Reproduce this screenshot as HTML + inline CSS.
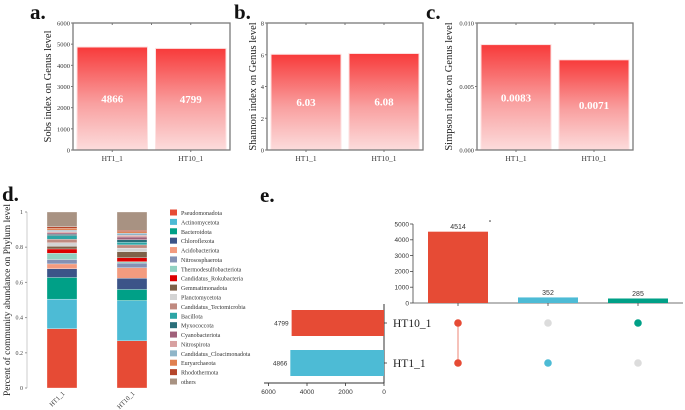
<!DOCTYPE html>
<html><head><meta charset="utf-8">
<style>
html,body{margin:0;padding:0;background:#fff;}
svg{display:block;font-family:"Liberation Serif",serif;}
.sans{font-family:"Liberation Sans",sans-serif;}
</style></head>
<body>
<svg id="fig" width="685" height="410" viewBox="0 0 685 410" xmlns="http://www.w3.org/2000/svg">
<defs>
<linearGradient id="rg" x1="0" y1="0" x2="0" y2="1">
<stop offset="0" stop-color="#f83a3a"/><stop offset="0.55" stop-color="#f9a0a0"/><stop offset="1" stop-color="#fcdcdc"/>
</linearGradient>
</defs>
</svg>
<script>
// ---------- data ----------
const alphaSamples = ["HT1_1","HT10_1"];
const sobsValues = [4866, 4799];
const sobsLabels = ["4866","4799"];
const sobsTicks = [0,1000,2000,3000,4000,5000,6000];
const shannonValues = [6.03, 6.08];
const shannonLabels = ["6.03","6.08"];
const shannonTicks = [0,2,4,6,8];
const simpsonValues = [0.0083, 0.0071];
const simpsonLabels = ["0.0083","0.0071"];
const simpsonTicks = [0,0.005,0.010];
const simpsonTickLabels = ["0.000","0.005","0.010"];

const phyla = ["Pseudomonadota","Actinomycetota","Bacteroidota","Chloroflexota","Acidobacteriota","Nitrososphaerota","Thermodesulfobacteriota","Candidatus_Rokubacteria","Gemmatimonadota","Planctomycetota","Candidatus_Tectomicrobia","Bacillota","Myxococcota","Cyanobacteriota","Nitrospirota","Candidatus_Cloacimonadota","Euryarchaeota","Rhodothermota","others"];
const phylumColors = ["#e64b35","#4dbbd5","#00a087","#3c5488","#f39b7f","#8491b4","#91d1c2","#dc0000","#7e6148","#d4d4d4","#c08a80","#2ca5a5","#2a6f7a","#a0607a","#d8a0a0","#8fb5c8","#e08050","#b5452a","#a89282"];
const ht1Abund = [0.337,0.168,0.123,0.050,0.027,0.025,0.036,0.024,0.015,0.020,0.020,0.020,0.008,0.008,0.008,0.008,0.010,0.010,0.083];
const ht10Abund = [0.268,0.229,0.063,0.064,0.059,0.027,0.008,0.022,0.035,0.020,0.018,0.015,0.015,0.015,0.010,0.012,0.008,0.008,0.104];
const stackSamples = ["HT1_1","HT10_1"];
const stackTicks = [0,0.2,0.4,0.6,0.8,1];
const stackTickLabels = ["0","0.2","0.4","0.6","0.8","1"];

const upsetValues = [4514, 352, 285];
const upsetColors = ["#e64b35","#4dbbd5","#00a087"];
const upsetTicks = [0,1000,2000,3000,4000,5000];
const setNames = ["HT10_1","HT1_1"];
const setSizes = [4799, 4866];
const setColors = ["#e64b35","#4dbbd5"];
const setTicks = [0,2000,4000,6000];
// membership[set][intersection]
const membership = [[1,0,1],[1,1,0]];

// ---------- helpers ----------
const svg = document.getElementById('fig');
const NS = "http://www.w3.org/2000/svg";
function el(tag, attrs, parent){
  const e = document.createElementNS(NS, tag);
  for (const k in attrs) e.setAttribute(k, attrs[k]);
  (parent||svg).appendChild(e);
  return e;
}
function txt(x,y,s,attrs,parent){
  const t = el('text', Object.assign({x:x,y:y}, attrs||{}), parent);
  t.textContent = s;
  return t;
}
function lin(d0,d1,r0,r1){ return v => r0 + (v-d0)/(d1-d0)*(r1-r0); }

// ---------- alpha panels ----------
function alphaPanel(opt){
  const g = el('g',{});
  
  
  const L=opt.left,R=opt.right,T=23,B=150;
  const y = lin(0, opt.max, B, T);
  const bw = (R-L)/alphaSamples.length;
  alphaSamples.forEach((s,i)=>{
    const x0 = L + i*bw + 4, x1 = L + (i+1)*bw - 4;
    const r = el('rect',{x:x0,y:y(opt.values[i]),width:x1-x0,height:B-y(opt.values[i]),fill:'url(#rg)',stroke:'#fde2e2','stroke-width':1},g);
    
    
    const lv = txt((x0+x1)/2, (y(opt.values[i])+B)/2+4, opt.labels[i], {'text-anchor':'middle','font-size':11,'font-weight':'bold',fill:'#fff'},g);
    
    
    const xl = txt(L+(i+0.5)*bw, 161, s, {'text-anchor':'middle','font-size':7.5,fill:'#333'},g);
    
    
    el('line',{x1:L+(i+0.5)*bw,x2:L+(i+0.5)*bw,y1:B,y2:B+2,stroke:'#777'},g);
    el('line',{x1:L+(i+0.5)*bw,x2:L+(i+0.5)*bw,y1:T,y2:T+2,stroke:'#777'},g);
  });
  el('line',{x1:L+bw,x2:L+bw,y1:T,y2:T+2,stroke:'#777'},g);
  el('rect',{x:L,y:T,width:R-L,height:B-T,fill:'none',stroke:'#7a7a7a','stroke-width':1.3},g);
  opt.ticks.forEach((t,i)=>{
    el('line',{x1:L-2,x2:L,y1:y(t),y2:y(t),stroke:'#777'},g);
    const tl = txt(L-3, y(t)+2.5, opt.tickLabels?opt.tickLabels[i]:String(t), {'text-anchor':'end','font-size':6.5,fill:'#333'},g);
    
    
  });
  const yt = txt(0,0,opt.ylabel,{'text-anchor':'middle','font-size':10.5,fill:'#222',transform:`translate(${opt.ylx},${(T+B)/2}) rotate(-90)`},g);
  
  
  const pl = txt(opt.px, 19, opt.letter, {'font-size':21,'font-weight':'bold',fill:'#111'},g);
  
  
}
alphaPanel({name:'sobs-panel',left:73,right:230,max:6000,values:sobsValues,labels:sobsLabels,ticks:sobsTicks,ylabel:'Sobs index on Genus level',ylx:51,px:30,letter:'a.'});
alphaPanel({name:'shannon-panel',left:267,right:423,max:8,values:shannonValues,labels:shannonLabels,ticks:shannonTicks,ylabel:'Shannon index on Genus level',ylx:256,px:234,letter:'b.'});
alphaPanel({name:'simpson-panel',left:477,right:633,max:0.010,values:simpsonValues,labels:simpsonLabels,ticks:simpsonTicks,tickLabels:simpsonTickLabels,ylabel:'Simpson index on Genus level',ylx:452,px:426,letter:'c.'});

// ---------- panel d: stacked bars ----------
(function(){
  const g = el('g',{});
  
  
  const T=212,B=388,AX=27;
  const y = lin(0,1,B,T);
  const pl = txt(2,201,'d.',{'font-size':21,'font-weight':'bold',fill:'#111'},g);
  
  
  const yt = txt(0,0,'Percent of community abundance on Phylum level',{'text-anchor':'middle','font-size':9.5,fill:'#222',transform:`translate(10,${(T+B)/2}) rotate(-90)`},g);
  
  
  el('line',{x1:AX,x2:AX,y1:T,y2:B,stroke:'#aaa','stroke-width':0.6},g);
  stackTicks.forEach((t,i)=>{
    el('line',{x1:AX-2,x2:AX,y1:y(t),y2:y(t),stroke:'#999'},g);
    const tl = txt(AX-4,y(t)+2,stackTickLabels[i],{'text-anchor':'end','font-size':6,fill:'#444'},g);
    
    
  });
  const data=[ht1Abund,ht10Abund], xs=[47,117], bw=30;
  data.forEach((arr,si)=>{
    let cum=0;
    arr.forEach((v,k)=>{
      const r = el('rect',{x:xs[si],y:y(cum+v),width:bw,height:y(cum)-y(cum+v),fill:phylumColors[k],stroke:'#fff','stroke-width':0.3},g);
      
      
      cum+=v;
    });
    const xl = txt(0,0,stackSamples[si],{'text-anchor':'end','font-size':6.5,fill:'#333',transform:`translate(${xs[si]+bw/2+3},${B+6}) rotate(-45)`},g);
    
    
  });
  phyla.forEach((p,k)=>{
    const yy = 213 + k*9.39;
    const sw = el('rect',{x:170,y:yy-3.5,width:7,height:6,fill:phylumColors[k]},g);
    
    
    const lt = txt(181,yy+2,p,{'font-size':6,fill:'#333'},g);
    
    
  });
})();

// ---------- panel e: upset ----------
(function(){
  const g = el('g',{class:'sans'});
  
  
  const pl = txt(260,202,'e.',{'font-size':21,'font-weight':'bold',fill:'#111','font-family':'Liberation Serif, serif'},g);
  
  
  const YA=413, T=224, B=303;
  const y = lin(0,5000,B,T);
  const cx = [458,548,638], bw=60;
  el('line',{x1:YA,x2:YA,y1:T,y2:B,stroke:'#444','stroke-width':0.8},g);
  el('line',{x1:YA,x2:683,y1:B,y2:B,stroke:'#444','stroke-width':0.8},g);
  upsetTicks.forEach(t=>{
    el('line',{x1:YA-3,x2:YA,y1:y(t),y2:y(t),stroke:'#444','stroke-width':0.8},g);
    const tl = txt(YA-4,y(t)+2.3,String(t),{'text-anchor':'end','font-size':6.5,fill:'#333'},g);
    
    
  });
  upsetValues.forEach((v,i)=>{
    const r = el('rect',{x:cx[i]-bw/2,y:y(v),width:bw,height:B-y(v),fill:upsetColors[i]},g);
    
    
    el('line',{x1:cx[i],x2:cx[i],y1:B,y2:B+3,stroke:'#444','stroke-width':0.8},g);
    const vl = txt(cx[i],y(v)-2.5,String(v),{'text-anchor':'middle','font-size':7,fill:'#333'},g);
    
    
  });
  el('circle',{cx:490,cy:221,r:0.8,fill:'#333'},g);
  const rows=[323,363], AX=384;
  const x = lin(0,6000,AX,AX-115.5);
  el('line',{x1:AX,x2:AX,y1:304,y2:383,stroke:'#333','stroke-width':1},g);
  el('line',{x1:AX-120,x2:AX,y1:383,y2:383,stroke:'#333','stroke-width':1},g);
  setTicks.forEach(t=>{
    el('line',{x1:x(t),x2:x(t),y1:383,y2:386,stroke:'#333','stroke-width':0.8},g);
    const tl = txt(x(t),394,String(t),{'text-anchor':'middle','font-size':6.5,fill:'#333'},g);
    
    
  });
  setNames.forEach((s,j)=>{
    const r = el('rect',{x:x(setSizes[j]),y:rows[j]-13,width:AX-x(setSizes[j]),height:26,fill:setColors[j]},g);
    
    
    const vl = txt(x(setSizes[j])-3,rows[j]+2.3,String(setSizes[j]),{'text-anchor':'end','font-size':6.5,fill:'#333'},g);
    
    
    el('line',{x1:AX,x2:AX+3,y1:rows[j],y2:rows[j],stroke:'#333','stroke-width':0.8},g);
    const nl = txt(AX+9,rows[j]+4,s,{'font-size':11.5,fill:'#222','font-family':'Liberation Serif, serif'},g);
    
    
  });
  upsetValues.forEach((v,i)=>{
    const members = [];
    setNames.forEach((s,j)=>{ if(membership[j][i]) members.push(j); });
    if(members.length>1){
      const ln = el('line',{x1:cx[i],x2:cx[i],y1:rows[members[0]],y2:rows[members[members.length-1]],stroke:'#f09a8c','stroke-width':1.2},g);
      
      
    }
    setNames.forEach((s,j)=>{
      const c = el('circle',{cx:cx[i],cy:rows[j],r:3.8,fill:membership[j][i]?upsetColors[i]:'#dcdcdc'},g);
      
      
    });
  });
})();
</script>
</body></html>
